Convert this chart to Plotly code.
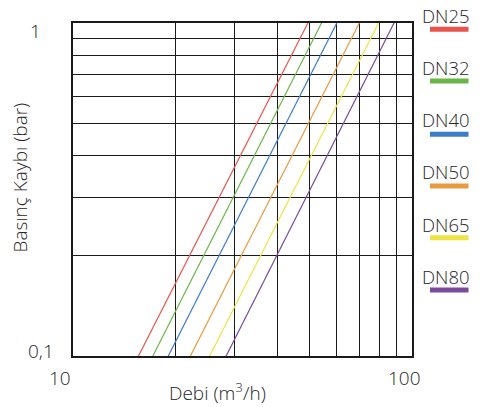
import plotly.graph_objects as go

series_names = ["DN25", "DN32", "DN40", "DN50", "DN65", "DN80"]
series_colors = ["#e8554f", "#6db44a", "#3a7dc9", "#e99a40", "#f0e445", "#7a4a9c"]
pressure_drop = [0.1, 1.0]  # bar
flow_low = [15.6, 17.2, 19.1, 22.2, 25.3, 28.3]   # m3/h at 0.1 bar
flow_high = [49.3, 54.1, 60.0, 69.9, 79.7, 88.5]  # m3/h at 1 bar
x_grid = [20, 30, 40, 50, 60, 70, 80, 90]
y_grid = [0.2, 0.3, 0.4, 0.5, 0.6, 0.7, 0.8, 0.9]

# page is 481x407; the html body has an 8px margin at top/left
OFF = 8
PAGE_W, PAGE_H = 481, 407
W, H = PAGE_W - OFF, PAGE_H - OFF
# plot area in page pixels
PL, PR, PT, PB = 73, 412, 23, 356
ML, MR, MT, MB = PL - OFF, W - (PR - OFF), PT - OFF, H - (PB - OFF)
PW, PH = W - ML - MR, H - MT - MB


def fx(px):
    return (px - PL) / PW


def fy(py):
    return (PB - py) / PH


FONT = "Open Sans"
TXT = "#262626"

fig = go.Figure()
for name, col, lo, hi in zip(series_names, series_colors, flow_low, flow_high):
    fig.add_trace(go.Scatter(x=[lo, hi], y=pressure_drop, mode="lines",
                             line=dict(color=col, width=1.2), name=name,
                             showlegend=False, hoverinfo="skip"))

axis_common = dict(type="log", showgrid=True, gridcolor="#1a1a1a", gridwidth=1.3,
                   showline=True, linecolor="#1a1a1a", linewidth=1.5, mirror=True,
                   ticks="", showticklabels=False, zeroline=False)
fig.update_xaxes(range=[1, 2], tickvals=x_grid, **axis_common)
fig.update_yaxes(range=[-1, 0], tickvals=y_grid, **axis_common)

annotations = []
tick_font = dict(family=FONT, size=19, color=TXT, weight=300)
for text, px, py in [("10", 60, 378), ("100", 404, 378), ("1", 35, 31), ("0,1", 41, 351)]:
    annotations.append(dict(text=text, x=fx(px), y=fy(py), xref="paper", yref="paper",
                            xanchor="center", yanchor="middle", showarrow=False, font=tick_font))
annotations.append(dict(text="Debi (m<sup>3</sup>/h)", x=fx(217), y=fy(392), xref="paper", yref="paper",
                        xanchor="center", yanchor="middle", showarrow=False, font=tick_font))
annotations.append(dict(text="Basınç Kaybı (bar)", x=fx(19.5), y=fy(178), xref="paper", yref="paper",
                        xanchor="center", yanchor="middle", textangle=-90, showarrow=False,
                        font=tick_font))

shapes = []
text_y = [16, 67.5, 119.5, 171.5, 224.5, 276.5]
bar_y = [29.3, 81, 134.3, 186, 237.7, 290]
for name, col, ty, by in zip(series_names, series_colors, text_y, bar_y):
    annotations.append(dict(text=name, x=fx(446), y=fy(ty), xref="paper", yref="paper",
                            xanchor="center", yanchor="middle", showarrow=False,
                            font=dict(family=FONT, size=18.5, color=TXT, weight=300)))
    shapes.append(dict(type="rect", xref="paper", yref="paper",
                       x0=fx(430), x1=fx(468.5), y0=fy(by + 2.5), y1=fy(by - 2.5),
                       fillcolor=col, line=dict(width=0)))

fig.update_layout(width=W, height=H, margin=dict(l=ML, r=MR, t=MT, b=MB),
                  paper_bgcolor="white", plot_bgcolor="white",
                  annotations=annotations, shapes=shapes, showlegend=False)
fig.write_html("out.html")
